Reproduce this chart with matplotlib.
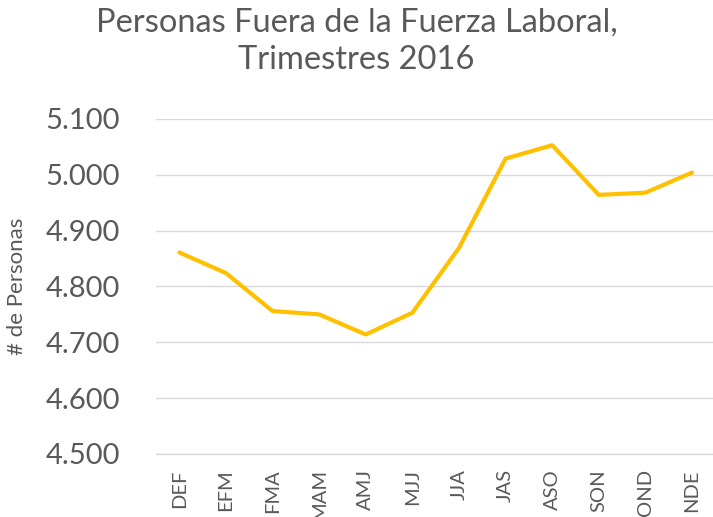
import matplotlib
matplotlib.use("Agg")
import matplotlib.pyplot as plt
from matplotlib.ticker import FuncFormatter

# Data (miles de personas)
trimestres = ['DEF', 'EFM', 'FMA', 'MAM', 'AMJ', 'MJJ', 'JJA', 'JAS', 'ASO', 'SON', 'OND', 'NDE']
personas = [4861, 4824, 4756, 4750, 4714, 4753, 4869, 5029, 5053, 4964, 4968, 5004]
yticks = [4500, 4600, 4700, 4800, 4900, 5000, 5100]

gray = '#595959'
plt.rcParams['font.family'] = ['Lato', 'DejaVu Sans']

fig = plt.figure(figsize=(7.13, 5.17), dpi=100)
ax = fig.add_axes([0.2188, 0.1219, 0.7812, 0.648])

x = list(range(len(trimestres)))
ax.plot(x, personas, color='#FFC000', linewidth=3, solid_joinstyle='round', solid_capstyle='round')

ax.set_ylim(4500, 5100)
ax.set_xlim(-0.5, 11.45)
ax.set_yticks(yticks)
ax.yaxis.set_major_formatter(FuncFormatter(lambda v, p: f"{int(v):,}".replace(',', '.')))
ax.set_xticks(x)
ax.set_xticklabels(trimestres, rotation=90, fontsize=14.5, color=gray)
ax.tick_params(axis='y', labelsize=21, colors=gray, length=0, pad=26)
ax.tick_params(axis='x', length=0, pad=11)

ax.grid(axis='y', color='#D9D9D9', linewidth=1)
ax.set_axisbelow(True)
for s in ['top', 'right', 'left']:
    ax.spines[s].set_visible(False)
ax.spines['bottom'].set_color('#D9D9D9')
ax.spines['bottom'].set_linewidth(1)

ax.set_ylabel('# de Personas', fontsize=16, color=gray)
ax.yaxis.set_label_coords(-0.232, 0.5)

fig.text(0.5, 0.985, 'Personas Fuera de la Fuerza Laboral,\nTrimestres 2016', ha='center', va='top',
         fontsize=23.5, color=gray, linespacing=1.3)

fig.savefig('out.png', dpi=100)
